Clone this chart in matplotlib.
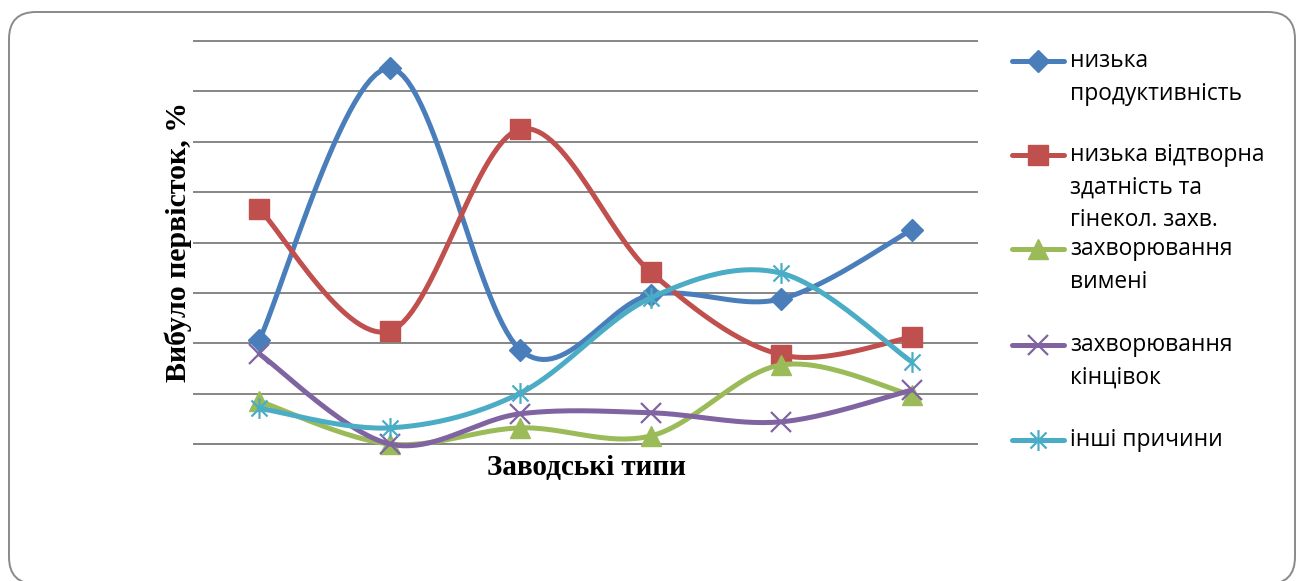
import numpy as np
import matplotlib
matplotlib.use("Agg")
import matplotlib.pyplot as plt
from matplotlib.patches import FancyBboxPatch
from matplotlib.lines import Line2D
from matplotlib.path import Path

# дані (частка в одиницях сітки, вісь 0..8)
categories = ['1', '2', '3', '4', '5', '6']
low_prod = [2.06, 7.46, 1.87, 2.96, 2.88, 4.25]
low_repro = [4.66, 2.24, 6.25, 3.41, 1.77, 2.12]
udder = [0.85, 0.0, 0.32, 0.16, 1.57, 0.97]
limbs = [1.79, 0.0, 0.60, 0.62, 0.44, 1.07]
other = [0.71, 0.32, 1.01, 2.90, 3.39, 1.63]

labels = [['низька', 'продуктивність'],
          ['низька відтворна', 'здатність та', 'гінекол. захв.'],
          ['захворювання', 'вимені'],
          ['захворювання', 'кінцівок'],
          ['інші причини']]
colors = ['#4A7EBB', '#C0504D', '#9BBB59', '#8064A2', '#4BACC6']

# зірочка як в Excel
star = Path([(-1, -1), (1, 1), (-1, 1), (1, -1), (0, -1.3), (0, 1.3)],
            [Path.MOVETO, Path.LINETO, Path.MOVETO, Path.LINETO, Path.MOVETO, Path.LINETO])
markers = ['D', 's', '^', 'x', star]
msizes = [11, 14, 14, 15, 15]


def smooth(x, y, n=30):
    '''згладжування лінії як в Excel (Catmull-Rom / Безьє)'''
    x = np.asarray(x, float)
    y = np.asarray(y, float)
    px = np.concatenate([[x[0]], x, [x[-1]]])
    py = np.concatenate([[y[0]], y, [y[-1]]])
    xs, ys = [], []
    t = np.linspace(0, 1, n)
    for i in range(1, len(x)):
        p0x, p1x, p2x, p3x = px[i - 1], px[i], px[i + 1], px[i + 2]
        p0y, p1y, p2y, p3y = py[i - 1], py[i], py[i + 1], py[i + 2]
        c1x, c1y = p1x + (p2x - p0x) / 6, p1y + (p2y - p0y) / 6
        c2x, c2y = p2x - (p3x - p1x) / 6, p2y - (p3y - p1y) / 6
        bx = (1 - t) ** 3 * p1x + 3 * (1 - t) ** 2 * t * c1x + 3 * (1 - t) * t ** 2 * c2x + t ** 3 * p2x
        by = (1 - t) ** 3 * p1y + 3 * (1 - t) ** 2 * t * c1y + 3 * (1 - t) * t ** 2 * c2y + t ** 3 * p2y
        xs.extend(bx)
        ys.extend(by)
    return xs, ys


fig = plt.figure(figsize=(13, 5.81), dpi=100)
W, H = 1300, 581

# рамка з заокругленими кутами
frame = FancyBboxPatch((0.09, -0.03), 12.86, 5.75 - 0.03,
                       boxstyle="round,pad=0,rounding_size=0.27",
                       transform=fig.dpi_scale_trans, facecolor='white',
                       edgecolor='#8a8a8a', linewidth=1.4, zorder=-10)
fig.patches.append(frame)

ax = fig.add_axes([194 / W, 1 - 444 / H, (977 - 194) / W, (444 - 41) / H])
ax.set_facecolor('none')
x = np.arange(len(categories))
series = [low_prod, low_repro, udder, limbs, other]
for i, s in enumerate(series):
    sx, sy = smooth(x, s)
    ax.plot(sx, sy, color=colors[i], lw=3.6, zorder=3 + i, clip_on=False,
            solid_capstyle='round')
    if i in (3, 4):
        ax.plot(x, s, ls='none', marker=markers[i], ms=msizes[i], mec=colors[i],
                mew=1.6, zorder=3 + i, clip_on=False)
    else:
        ax.plot(x, s, ls='none', marker=markers[i], ms=msizes[i], color=colors[i],
                mec=colors[i], zorder=3 + i, clip_on=False)

ax.set_xlim(-0.5, 5.5)
ax.set_ylim(0, 8)
ax.set_yticks(range(0, 9))
ax.yaxis.grid(True, color='#868686', lw=1.4)
for gl in ax.get_ygridlines():
    gl.set_clip_on(False)
ax.set_axisbelow(True)
ax.tick_params(left=False, bottom=False, labelleft=False, labelbottom=False)
for sp in ['left', 'right', 'top']:
    ax.spines[sp].set_visible(False)
ax.spines['bottom'].set_color('#868686')
ax.spines['bottom'].set_linewidth(1.4)

fig.text(178 / W, 1 - 242 / H, 'Вибуло первісток, %', rotation=90, ha='center', va='center',
         fontsize=21.5, fontweight='bold', family='Liberation Serif')
fig.text(586 / W, 1 - 467 / H, 'Заводські типи', ha='center', va='center',
         fontsize=21, fontweight='bold', family='Liberation Serif')

# легенда
leg_y = [61, 155, 249, 345, 440]
for i in range(5):
    yy = 1 - leg_y[i] / H
    ln = Line2D([1012 / W, 1064 / W], [yy, yy], transform=fig.transFigure, color=colors[i],
                lw=3.6, solid_capstyle='round')
    fig.add_artist(ln)
    if i in (3, 4):
        mk = Line2D([1038 / W], [yy], transform=fig.transFigure, ls='none', marker=markers[i],
                    ms=msizes[i], mec=colors[i], mew=1.6)
    else:
        mk = Line2D([1038 / W], [yy], transform=fig.transFigure, ls='none', marker=markers[i],
                    ms=msizes[i], color=colors[i], mec=colors[i])
    fig.add_artist(mk)
    for j, line in enumerate(labels[i]):
        ty = leg_y[i] + 32.5 * j + 6
        fig.text(1070 / W, 1 - ty / H, line, ha='left', va='baseline', fontsize=16.4,
                 family='Open Sans')

fig.savefig('out.png', dpi=100)
